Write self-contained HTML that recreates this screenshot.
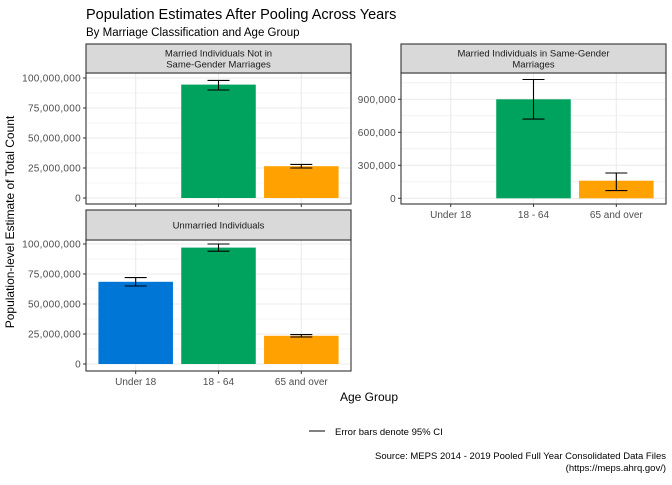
<!DOCTYPE html>
<html><head><meta charset="utf-8"><style>
body{margin:0;background:#fff;font-family:"Liberation Sans",Arial,sans-serif}
svg text{font-family:"Liberation Sans",Arial,sans-serif}
</style></head><body>
<svg id="c" width="672" height="480" xmlns="http://www.w3.org/2000/svg">
<rect width="672" height="480" fill="#fff"/>
<text x="86" y="19" font-size="14.5" fill="#000">Population Estimates After Pooling Across Years</text>
<text x="86" y="36" font-size="11.5" fill="#000">By Marriage Classification and Age Group</text>
<text transform="translate(14,222) rotate(-90)" text-anchor="middle" font-size="12">Population-level Estimate of Total Count</text>
<text x="369" y="401" text-anchor="middle" font-size="12">Age Group</text>
<line x1="309" y1="431" x2="325" y2="431" stroke="#000"/>
<text x="335" y="435" font-size="9.5">Error bars denote 95% CI</text>
<text x="666" y="459" text-anchor="end" font-size="9.5">Source: MEPS 2014 - 2019 Pooled Full Year Consolidated Data Files</text>
<text x="666" y="471" text-anchor="end" font-size="9.5">(https://meps.ahrq.gov/)</text>
<g id="panels"></g>
</svg>
<script>
const categories=["Under 18","18 - 64","65 and over"];
const colors=["#0077D6","#00A35E","#FFA100"];
const p1Values=[null,94500000,26500000];
const p1Lo=[null,90000000,25000000];
const p1Hi=[null,98000000,28000000];
const p2Values=[null,900000,160000];
const p2Lo=[null,720000,70000];
const p2Hi=[null,1080000,230000];
const p3Values=[68500000,97000000,23500000];
const p3Lo=[65000000,94000000,22500000];
const p3Hi=[72000000,100000000,24500000];
const ticksBig=[0,25000000,50000000,75000000,100000000];
const ticksSmall=[0,300000,600000,900000];
const ns="http://www.w3.org/2000/svg";
const g=document.getElementById('panels');
function mk(tag,a,parent){const e=document.createElementNS(ns,tag);for(const k in a)e.setAttribute(k,a[k]);(parent||g).appendChild(e);return e;}
function panel(o){
 const {x0,x1,sy0,py0,py1,zeroY,max,maxY,title,vals,lo,hi,ticks,showX,name}=o;
 const pg=mk('g',{});
 
 
 const yS=v=>zeroY-(v/max)*(zeroY-maxY);
 const band=(x1-x0)/3.2;
 const xS=i=>x0+band*(0.6+i);
 mk('rect',{x:x0,y:py0,width:x1-x0,height:py1-py0,fill:'#fff'},pg);
 for(let i=0;i<ticks.length;i++){const v=ticks[i]+(ticks[1]-ticks[0])/2;const y=yS(v);if(y>py0){mk('line',{x1:x0,x2:x1,y1:y,y2:y,stroke:'#ebebeb','stroke-width':0.6},pg);}}
 const yM=yS(-(ticks[1]-ticks[0])/2);if(yM<py1)mk('line',{x1:x0,x2:x1,y1:yM,y2:yM,stroke:'#ebebeb','stroke-width':0.6},pg);
 ticks.forEach(t=>{const y=yS(t);
  const gl=mk('line',{x1:x0,x2:x1,y1:y,y2:y,stroke:'#ebebeb','stroke-width':1.1},pg);
  
  mk('line',{x1:x0-3,x2:x0,y1:y,y2:y,stroke:'#333'},pg);
  const tx=mk('text',{x:x0-5,y:y+3.5,'text-anchor':'end','font-size':10,'letter-spacing':0.3,fill:'#4d4d4d'},pg);tx.textContent=t.toLocaleString('en-US');
  });
 categories.forEach((c,i)=>{const x=xS(i);
  mk('line',{x1:x,x2:x,y1:py0,y2:py1,stroke:'#ebebeb','stroke-width':1.1},pg);
  mk('line',{x1:x,x2:x,y1:py1,y2:py1+3,stroke:'#333'},pg);
  if(showX){const t=mk('text',{x:x,y:py1+14,'text-anchor':'middle','font-size':10,fill:'#4d4d4d'},pg);t.textContent=c;
   }
 });
 vals.forEach((v,i)=>{if(v==null)return;const x=xS(i),w=band*0.9;
  const b=mk('rect',{x:x-w/2,y:yS(v),width:w,height:yS(0)-yS(v),fill:colors[i]},pg);
  
  
  const eb=mk('path',{d:`M${x-11},${yS(hi[i])}H${x+11}M${x},${yS(hi[i])}V${yS(lo[i])}M${x-11},${yS(lo[i])}H${x+11}`,stroke:'#000','stroke-width':1.1,fill:'none'},pg);
  
 });
 mk('rect',{x:x0,y:py0,width:x1-x0,height:py1-py0,fill:'none',stroke:'#333','stroke-width':1.1},pg);
 const s=mk('rect',{x:x0,y:sy0,width:x1-x0,height:py0-sy0,fill:'#d9d9d9',stroke:'#333','stroke-width':1.1},pg);
 
 const lines=title.split('\n');
 lines.forEach((l,k)=>{const t=mk('text',{x:(x0+x1)/2,y:(sy0+py0)/2+3.5+(k-(lines.length-1)/2)*11,'text-anchor':'middle','font-size':9.5,fill:'#1a1a1a'},pg);t.textContent=l;
  });
}
panel({name:'panel-married-not-same-gender',x0:86,x1:351,sy0:44,py0:73,py1:204,zeroY:198,max:100000000,maxY:78,title:"Married Individuals Not in\nSame-Gender Marriages",vals:p1Values,lo:p1Lo,hi:p1Hi,ticks:ticksBig,showX:false});
panel({name:'panel-married-same-gender',x0:401,x1:666,sy0:44,py0:73,py1:204,zeroY:198.3,max:900000,maxY:99.3,title:"Married Individuals in Same-Gender\nMarriages",vals:p2Values,lo:p2Lo,hi:p2Hi,ticks:ticksSmall,showX:true});
panel({name:'panel-unmarried',x0:86,x1:351,sy0:210,py0:240,py1:371,zeroY:364,max:100000000,maxY:244,title:"Unmarried Individuals",vals:p3Values,lo:p3Lo,hi:p3Hi,ticks:ticksBig,showX:true});
</script>
</body></html>
